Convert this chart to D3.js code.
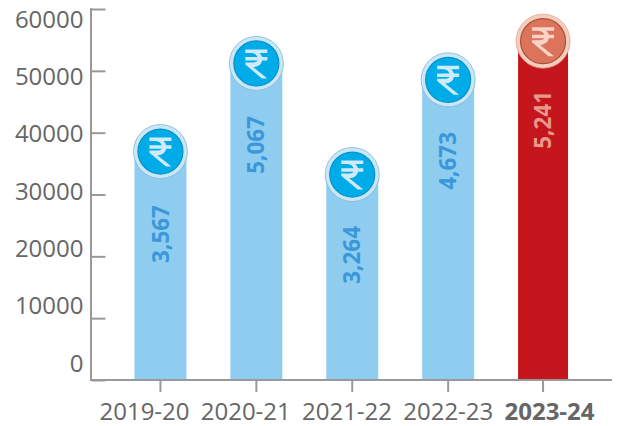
<!DOCTYPE html>
<html><head><meta charset="utf-8">
<script src="https://cdnjs.cloudflare.com/ajax/libs/d3/7.8.5/d3.min.js"></script>
<style>html,body{margin:0;padding:0;background:#fff}svg{display:block}text{font-family:"Open Sans",sans-serif}</style>
</head><body><svg id="c" width="621" height="426"></svg>
<script>
const years = ["2019-20","2020-21","2021-22","2022-23","2023-24"];
const barValues = [35670,50670,32640,47500,54000];
const valueLabels = ["3,567","5,067","3,264","4,673","5,241"];
const labelLevels = [23620,38030,20230,35440,42070];
const badgeLevels = [36950,51200,33230,48550,54800];
const yTicks = [0,10000,20000,30000,40000,50000,60000];

const svg = d3.select("#c");
const y = d3.scaleLinear().domain([0,60000]).range([380,9]);
const yLabel = d3.scaleLinear().domain([0,60000]).range([363,19]);
const x = d3.scaleBand().domain(years).range([112.5,592]).paddingInner(0.458).paddingOuter(0.229);
const xLabel = d3.scalePoint().domain(years).range([144.5,549.5]);
const last = years[years.length-1];
const bw = d => x.bandwidth()-(d===last?2:0);
const cx = d => x(d)+bw(d)/2;

// bars
svg.append("g").selectAll("rect").data(years).join("rect")
  .attr("x",d=>x(d))
  .attr("width",d=>bw(d))
  .attr("y",(d,i)=>y(barValues[i]))
  .attr("height",(d,i)=>y(0)-y(barValues[i]))
  .attr("fill",d=>d===last?"#c4161c":"#8fcdf0");

// axes
const yAxis = d3.axisLeft(y).tickValues(yTicks).tickSize(-14).tickFormat("");
const yG = svg.append("g").attr("transform","translate(91.5,0)").call(yAxis);
yG.select(".domain").remove();
yG.selectAll("line").attr("stroke","#999").attr("stroke-width",2);
svg.append("line").attr("x1",91).attr("x2",91).attr("y1",y(60000)-1).attr("y2",y(0)+1).attr("stroke","#999").attr("stroke-width",2);
const xAxis = d3.axisBottom(x).tickSize(12).tickFormat("");
const xG = svg.append("g").attr("transform","translate(0,380)").call(xAxis);
xG.select(".domain").remove();
xG.selectAll("line").attr("stroke","#999").attr("stroke-width",2);
xG.selectAll(".tick").attr("transform",d=>`translate(${cx(d)},0)`);
svg.append("line").attr("x1",90).attr("x2",612).attr("y1",380).attr("y2",380).attr("stroke","#999").attr("stroke-width",2);

// tick labels
svg.append("g").selectAll("text").data(yTicks).join("text")
  .attr("x",83.5).attr("y",d=>yLabel(d)).attr("dy","0.36em")
  .attr("text-anchor","end").attr("font-size",24).attr("fill","#666").text(d=>d);
svg.append("g").selectAll("text").data(years).join("text")
  .attr("x",d=>xLabel(d)).attr("y",411).attr("dy","0.36em")
  .attr("text-anchor","middle").attr("font-size",24)
  .attr("font-weight",d=>d===last?700:400).attr("fill","#666").text(d=>d);

// value labels
svg.append("g").selectAll("text").data(years).join("text")
  .attr("transform",(d,i)=>`translate(${cx(d)},${y(labelLevels[i])}) rotate(-90)`)
  .attr("dy","0.36em").attr("text-anchor","middle").attr("font-size",22.5).attr("font-weight",700)
  .attr("fill",d=>d===last?"#e8998a":"#3a97d9").text((d,i)=>valueLabels[i]);

// rupee badges
const rupee = "M-11,-14H11V-10.5H3.2Q5.2,-8.6 5.8,-6.3H11V-2.8H5.8Q4.8,3 -3,3.8L11,15H5.5L-11,1.2V-1H-4Q0.6,-1.1 1.4,-2.8H-11V-6.3H1.2Q0,-10 -4.5,-10.5H-11Z";
const b = svg.append("g").selectAll("g").data(years).join("g")
  .attr("transform",(d,i)=>`translate(${cx(d)},${y(badgeLevels[i])})`);
b.append("circle").attr("r",27).attr("fill",d=>d===last?"#f5cdbd":"#cbe7f7").attr("stroke",d=>d===last?"#e3a48f":"#7fb8d2").attr("stroke-width",0.8);
b.append("circle").attr("r",22.5).attr("fill",d=>d===last?"#db745a":"#00ace8").attr("stroke",d=>d===last?"#a8503c":"#0592c8").attr("stroke-width",1.2);
b.append("path").attr("d",rupee).attr("fill",d=>d===last?"#f8d3c6":"#cfeafa");
</script></body></html>
